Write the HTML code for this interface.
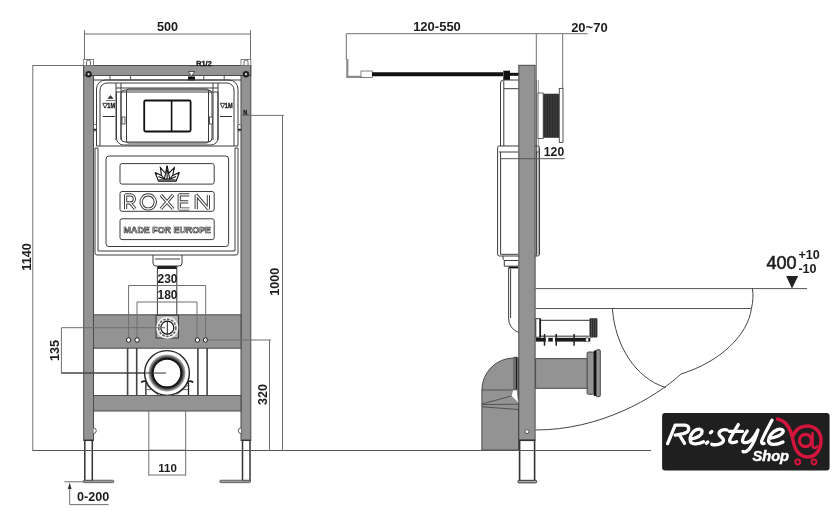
<!DOCTYPE html>
<html><head><meta charset="utf-8">
<style>
html,body{margin:0;padding:0;background:#fff;width:840px;height:525px;overflow:hidden}
svg{display:block;will-change:transform}
text{font-family:"Liberation Sans",sans-serif;fill:#1c1c1c}
.d{stroke:#6f6f6f;stroke-width:1;fill:none}
.o{stroke:#3c3c3c;stroke-width:1;fill:none}
.g{fill:#939393;stroke:#4a4a4a;stroke-width:1}
.b{font-weight:bold}
</style></head><body>
<svg width="840" height="525" viewBox="0 0 840 525">
<!-- ================= FRONT VIEW ================= -->
<!-- dim 500 -->
<text class="b" x="167.6" y="30.7" font-size="12.6" text-anchor="middle">500</text>
<path class="d" d="M84 34H251M84.5 30V60M250.5 30V60" stroke-width="1.4"/>
<!-- dim 1140 -->
<path class="d" d="M32.5 65.5H84M32.8 65.5V450.5"/>
<text class="b" transform="translate(30.5,257) rotate(-90)" font-size="12.6" text-anchor="middle">1140</text>

<!-- posts -->
<rect class="g" x="83.7" y="65.5" width="9.8" height="375"/>
<rect class="g" x="241" y="65.5" width="9.8" height="375"/>
<!-- top bar -->
<rect class="g" x="83.7" y="65.5" width="167" height="10"/>
<!-- top brackets -->
<rect x="83.7" y="59.5" width="9.8" height="6" fill="#fff" stroke="#666" stroke-width="0.8"/>
<rect x="241" y="59.5" width="9.8" height="6" fill="#fff" stroke="#666" stroke-width="0.8"/>
<path d="M86.5 65V62a2 2 0 0 1 4 0V65M244 65V62a2 2 0 0 1 4 0V65" stroke="#444" stroke-width="0.8" fill="none"/>
<!-- bolts -->
<circle cx="88.6" cy="74.2" r="3.2" fill="#222"/><circle cx="88.6" cy="74.2" r="1.1" fill="#ddd"/>
<circle cx="246" cy="74.2" r="3.2" fill="#222"/><circle cx="246" cy="74.2" r="1.1" fill="#ddd"/>
<!-- R1/2 -->
<text class="b" x="196.3" y="66.3" font-size="7.3" style="stroke:#1c1c1c;stroke-width:0.4">R1/2</text>
<path d="M190 66H194" stroke="#555" stroke-width="0.6"/>
<path d="M188.5 71.5H194.5L191.5 76.5Z" fill="#fff" stroke="#333" stroke-width="0.8"/>
<rect x="188" y="76.5" width="7" height="4" fill="#111"/>

<!-- strip below top bar -->
<path class="o" d="M93.5 80H241" stroke="#888"/>
<path d="M110 75.5V80M130.6 75.5V80M203.8 75.5V80M224.2 75.5V80" stroke="#555" stroke-width="1"/>

<!-- tank upper body -->
<path class="o" d="M96.5 146V89a9 9 0 0 1 9-9H229a9 9 0 0 1 9 9V146" stroke-width="0.9"/>
<path class="o" d="M100 146V90a7 7 0 0 1 7-7H227a7 7 0 0 1 7 7V146" stroke-width="0.7"/>
<path class="o" d="M116 83V140M121 83V140M213 83V140M218 83V140" stroke-width="0.7"/>
<path class="o" d="M116 88H218M116 92H218" stroke-width="0.7"/>
<!-- push plate housing -->
<path class="o" d="M116.5 92V138a7 7 0 0 0 7 7H211a7 7 0 0 0 7-7V92" stroke-width="0.9"/>
<rect class="o" x="121" y="90" width="91" height="52" rx="4" stroke-width="0.9"/>
<rect class="o" x="126.5" y="89" width="82" height="54" rx="2" stroke-width="1"/>
<!-- side tabs on housing -->
<rect x="122" y="117" width="3" height="7" fill="#fff" stroke="#333" stroke-width="0.8"/>
<rect x="209.5" y="117" width="3" height="7" fill="#fff" stroke="#333" stroke-width="0.8"/>
<!-- push buttons -->
<rect x="144.2" y="100.5" width="46.4" height="31" rx="1.5" fill="none" stroke="#111" stroke-width="1.8"/>
<path d="M171.6 100.5V131.5" stroke="#111" stroke-width="1.6"/>
<!-- 1M labels -->
<path d="M102.8 103.3H107.3L105 108.2Z M220.3 103.3H224.8L222.5 108.2Z" fill="none" stroke="#222" stroke-width="0.9"/>
<text class="b" x="107.3" y="108.4" font-size="7.4" textLength="7.8" lengthAdjust="spacingAndGlyphs" style="stroke:#1c1c1c;stroke-width:0.35">1M</text>
<text class="b" x="224.8" y="108.4" font-size="7.4" textLength="7.8" lengthAdjust="spacingAndGlyphs" style="stroke:#1c1c1c;stroke-width:0.35">1M</text>
<path d="M108 98.5L110.5 95.5L113 98.5ZM106 100.5H115" fill="#333" stroke="#333" stroke-width="0.7"/>
<path d="M103 116.5H115M220 116.5H232" stroke="#333" stroke-width="1"/>
<!-- side notches -->
<rect x="93.5" y="124.5" width="3" height="6.5" rx="1" fill="#fff" stroke="#333" stroke-width="0.7"/>
<rect x="93.5" y="128.8" width="3" height="1.6" fill="#222"/>
<rect x="238" y="124.5" width="3" height="6.5" rx="1" fill="#fff" stroke="#333" stroke-width="0.7"/>
<rect x="238" y="128.8" width="3" height="1.6" fill="#222"/>
<text x="243.2" y="113.8" font-size="5.5" class="b" style="stroke:#1c1c1c;stroke-width:0.3">N</text>
<path d="M243 114.6H248.5" stroke="#333" stroke-width="0.8"/>

<!-- tank lower body -->
<path class="o" d="M96.5 146H238" stroke-width="1"/>
<path class="o" d="M95 148V253a2 2 0 0 0 2 2H236a2 2 0 0 0 2-2V148" stroke-width="1"/>
<path class="o" d="M98 148V251H235V148" stroke-width="0.7"/>
<path class="o" d="M95 148H98M235 148H238" stroke-width="0.8"/>
<!-- label panel -->
<rect class="o" x="106" y="156" width="122.6" height="90.5" rx="3" stroke-width="1"/>
<rect class="o" x="120" y="163.6" width="94.2" height="20.5" rx="2" stroke-width="0.9"/>
<rect class="o" x="120" y="191.5" width="94.2" height="19.8" rx="2" stroke-width="0.9"/>
<rect class="o" x="120" y="218.8" width="94.2" height="20.8" rx="2" stroke-width="0.9"/>
<!-- crown -->
<g fill="none" stroke="#111" stroke-width="1.1" stroke-linejoin="miter">
<path d="M155.1 172.5L158.5 181.2H176.1L179.3 172.5"/>
<path d="M158.8 180H175.8"/>
<path d="M164.4 179L167.1 165.6L169.7 179Z M167.1 170V179"/>
<path d="M161.5 175.5L160.4 167.7L165.2 173"/>
<path d="M172.7 175.5L174.3 167.7L169 173"/>
<path d="M155.1 172.5L161.5 175.5L164.4 179M179.3 172.5L172.7 175.5L169.7 179"/>
<path d="M158.5 176.5L164 179M176 176.5L170.5 179"/>
</g>
<path d="M166 168.5L167.1 165.6L168.2 168.5Z M159.8 167L160.4 167.7L161.8 169.2L160.6 170Z M174.9 167L174.3 167.7L172.5 169.2L174.2 170Z M155.1 172.5L157.5 173.2L156.3 175Z M179.3 172.5L176.9 173.2L178.1 175Z" fill="#111"/>
<!-- ROXEN -->
<g fill="none" stroke-linecap="butt" stroke-linejoin="bevel">
<path id="rx" d="M125.6 209V194.9H130.4A4 4 0 0 1 130.4 202.9H125.6M130.2 202.9L135.2 209M148.2 194.9A7.05 7.05 0 1 0 148.21 194.9M160.8 194.9L173.2 209M173.2 194.9L160.8 209M189.2 194.9H179.2V209H189.2M179.2 201.9H188.2M196.2 209V194.9L208.4 209V194.9" stroke="#3a3a3a" stroke-width="3.2"/>
<path d="M125.6 209V194.9H130.4A4 4 0 0 1 130.4 202.9H125.6M130.2 202.9L135.2 209M148.2 194.9A7.05 7.05 0 1 0 148.21 194.9M160.8 194.9L173.2 209M173.2 194.9L160.8 209M189.2 194.9H179.2V209H189.2M179.2 201.9H188.2M196.2 209V194.9L208.4 209V194.9" stroke="#fff" stroke-width="1.3"/>
</g>
<!-- MADE FOR EUROPE -->
<text class="b" x="167.3" y="232.8" font-size="9.6" text-anchor="middle" textLength="87.5" lengthAdjust="spacingAndGlyphs" style="fill:#d0d0d0;stroke:#2a2a2a;stroke-width:0.6">MADE FOR EUROPE</text>

<!-- outlet below tank -->
<path class="o" d="M153 255V263a3 3 0 0 0 3 3H179a3 3 0 0 0 3-3V255" stroke-width="0.9"/>
<path class="o" d="M155 259H180" stroke-width="0.7"/>
<rect x="157.4" y="266" width="19.4" height="3" fill="#222"/>
<path class="o" d="M157.4 266V316M176.8 266V316" stroke-width="0.9"/>

<!-- dims 230 / 180 -->
<text class="b" x="167.5" y="282.7" font-size="12" text-anchor="middle">230</text>
<text class="b" x="167.5" y="299.1" font-size="12" text-anchor="middle">180</text>


<!-- middle crossbar -->
<rect class="g" x="93.5" y="314.8" width="147.5" height="33.4"/>
<path class="d" d="M128.6 285.5H205.7M128.6 285.5V338M205.7 285.5V338" stroke="#4a4a4a" stroke-width="1.1"/>
<path class="d" d="M137 302H197M137 302V338M197 302V338" stroke="#4a4a4a" stroke-width="1.1"/>
<!-- flush connector -->
<rect x="156.1" y="315.3" width="22.3" height="22.7" fill="#b5b5b5" stroke="#333" stroke-width="1"/>
<circle cx="167.3" cy="327.7" r="11" fill="#f2f2f2"/>
<circle cx="167.3" cy="327.7" r="8.6" fill="none" stroke="#666" stroke-width="1.6" stroke-dasharray="2.6 1.4"/>
<circle cx="167.3" cy="327.7" r="6.5" fill="#fff" stroke="#111" stroke-width="1.2"/>
<path d="M167.3 321V334.5" stroke="#222" stroke-width="1"/>
<path d="M61.4 327.7H165" stroke="#6f6f6f" stroke-width="1"/>
<!-- bolt holes -->
<g fill="#fff" stroke="#222" stroke-width="1">
<circle cx="128.6" cy="340" r="2.2"/><circle cx="137.1" cy="340" r="2.2"/>
<circle cx="197.4" cy="340" r="2.2"/><circle cx="205.5" cy="340" r="2.2"/>
</g>
<!-- 135 dim -->
<path class="d" d="M61.4 373H166M61.4 327.7V373"/>
<text class="b" transform="translate(58.5,350.5) rotate(-90)" font-size="12.6" text-anchor="middle">135</text>
<!-- 320 dim -->
<path class="d" d="M205.5 340H271M269.5 340V450.5"/>
<text class="b" transform="translate(266.6,394.5) rotate(-90)" font-size="12.6" text-anchor="middle">320</text>
<!-- 1000 dim -->
<path class="d" d="M241 115.4H284M282.5 115.4V450.5"/>
<text class="b" transform="translate(279.4,281.7) rotate(-90)" font-size="12.6" text-anchor="middle">1000</text>

<!-- rods below middle crossbar -->
<path d="M127.6 348V396M136.7 348V396M197.9 348V396M207.1 348V396" stroke="#444" stroke-width="1.6"/>
<!-- outlet bracket -->
<rect x="145.9" y="383" width="42.6" height="13" fill="#fff" stroke="#222" stroke-width="1.3"/>
<path d="M146.5 389.6H156M178 389.6H188M146.5 385L158 395M188 385L176.5 395" stroke="#444" stroke-width="0.8"/>
<path d="M141.8 382C143 381 144.5 381 146 381.5M192.6 382C191.4 381 189.9 381 188.4 381.5" fill="none" stroke="#222" stroke-width="1.8" stroke-linecap="round"/>
<!-- outlet ring -->
<circle cx="167" cy="373" r="22.4" fill="#fff" stroke="#222" stroke-width="1.4"/>
<defs><radialGradient id="rg" cx="0.5" cy="0.5" r="0.5"><stop offset="0.74" stop-color="#111"/><stop offset="0.82" stop-color="#3a3a3a"/><stop offset="0.95" stop-color="#aaa"/><stop offset="1" stop-color="#fff"/></radialGradient></defs>
<circle cx="167" cy="373" r="19" fill="url(#rg)"/>
<circle cx="167" cy="373" r="14" fill="#fff" stroke="#111" stroke-width="1.4"/>
<path d="M61.4 373H166" stroke="#333" stroke-width="1"/>

<!-- bottom crossbar -->
<rect class="g" x="93.5" y="395.5" width="147.5" height="15.5"/>
<!-- 110 dim -->
<path class="d" d="M148.8 411V475.5M185.7 411V475.5M148.8 475H185.7"/>
<path d="M148.8 450.3H185.7" stroke="#444" stroke-width="1.3"/>
<text class="b" x="167.5" y="472.4" font-size="11.5" text-anchor="middle">110</text>
<!-- legs -->
<rect x="84.8" y="440.3" width="7.5" height="40.5" fill="#fff" stroke="#333" stroke-width="1.5"/>
<rect x="242.5" y="440.3" width="7.5" height="40.5" fill="#fff" stroke="#333" stroke-width="1.5"/>
<rect x="83.1" y="480.2" width="30.8" height="2.5" rx="1.2" fill="#999" stroke="#444" stroke-width="0.7"/>
<rect x="219.7" y="480.2" width="30.8" height="2.5" rx="1.2" fill="#999" stroke="#444" stroke-width="0.7"/>
<!-- knobs -->
<path d="M93.5 428a2.5 2.5 0 0 1 0 5.5" fill="#fff" stroke="#333" stroke-width="0.8"/>
<path d="M241 428a2.5 2.5 0 0 0 0 5.5" fill="#fff" stroke="#333" stroke-width="0.8"/>
<!-- 0-200 -->
<path class="d" d="M64.4 481.8H84M69.7 487V504.6H108.6"/>
<path d="M67.8 489L69.7 482.5L71.6 489Z" fill="#333"/>
<text class="b" x="77" y="501.1" font-size="12.6">0-200</text>



<!-- ================= SIDE VIEW ================= -->
<text class="b" x="437" y="31.3" font-size="13" text-anchor="middle">120-550</text>
<text class="b" x="589.4" y="31.5" font-size="13" text-anchor="middle">20~70</text>
<path class="d" d="M346.3 33.7H587.5M346.3 33.7V60M536.3 33.7V80M562.7 33.7V88" stroke-width="1.2"/>
<!-- L bracket -->
<path d="M347.3 59V76.8H371" fill="none" stroke="#8a8a8a" stroke-width="2.2"/>
<rect x="361" y="71" width="11.3" height="6.5" fill="#fff" stroke="#666" stroke-width="0.8"/>
<path d="M372 74.3H503" stroke="#111" stroke-width="4"/>
<rect x="503.3" y="70.7" width="6.7" height="9.3" fill="#111"/>
<path d="M510 74.3H519" stroke="#111" stroke-width="3"/>
<!-- side tank top -->
<path class="o" d="M500.5 146.2V83a3 3 0 0 1 3-3H518.8" stroke-width="0.9"/>
<path class="o" d="M503.8 88.7H518.8M503.8 80.5V146" stroke-width="0.8"/>
<!-- side tank lower -->
<path class="o" d="M499.5 146H538a1.5 1.5 0 0 1 1.5 1.5V254a2 2 0 0 1-2 2H499.6a2 2 0 0 1-2-2V147.5a1.5 1.5 0 0 1 1.5-1.5Z" stroke-width="1"/>
<path class="o" d="M500.6 152V254.3H518M536.7 152V254.3M499 152H518M536 152H540" stroke-width="0.7"/>
<text class="b" x="554" y="156.3" font-size="12.2" text-anchor="middle">120</text>
<!-- outlet -->
<path class="o" d="M502.9 256Q502.9 260.5 504.3 260.5V266.2H518M504.3 260.5H518" stroke-width="0.8"/>
<rect x="508.6" y="266.6" width="9.6" height="1.8" fill="#111"/>
<!-- flush pipe with bend -->
<path class="o" d="M508.6 268V318a15 15 0 0 0 10 14.5" stroke-width="1"/>
<path class="o" d="M510.6 268.5V318" stroke-width="0.6"/>

<!-- wall strip -->
<path d="M536.3 80V256" stroke="#444" stroke-width="1"/>
<path d="M538.3 80V256" stroke="#777" stroke-width="0.8"/>
<!-- flush button side -->
<rect x="538" y="93" width="5.2" height="45.6" fill="#fff" stroke="#444" stroke-width="0.8"/>
<rect x="543.2" y="93.7" width="16" height="44.1" fill="#3a3a3a"/>
<path d="M545 94V137M547.5 94V137M550 94V137M552.5 94V137M555 94V137M557.5 94V137" stroke="#222" stroke-width="0.6"/>
<rect x="559.3" y="88.4" width="3.7" height="54" fill="#fff" stroke="#444" stroke-width="0.9"/>

<!-- side post -->
<rect class="g" x="518.8" y="65.3" width="16.3" height="375"/>
<circle cx="527" cy="431.6" r="2" fill="#fff" stroke="#333" stroke-width="0.8"/>
<path d="M500.7 158.7H564.7" stroke="#555" stroke-width="1"/>
<!-- side leg -->
<rect x="519.6" y="440.3" width="15" height="40.5" fill="#fff" stroke="#333" stroke-width="1.6"/>
<rect x="517.8" y="480.3" width="19" height="2.6" rx="1.2" fill="#aaa" stroke="#333" stroke-width="0.9"/>

<!-- bowl -->
<path d="M535.5 288.6H807" stroke="#555" stroke-width="1"/>
<path d="M535.5 308.5H751" stroke="#555" stroke-width="1"/>
<path d="M752.4 288.6C753.5 295 753 302 751.4 308.6C748 335 720 362 681 374C655 398 600 430 535.7 430" fill="none" stroke="#444" stroke-width="1"/>
<path d="M612.4 308.6C615 345 635 378 665.7 387.6" fill="none" stroke="#444" stroke-width="1"/>
<path d="M792 288.6L786.1 276.1H798.2Z" fill="#222"/>
<text x="781.6" y="269.3" font-size="18" text-anchor="middle" style="stroke:#1c1c1c;stroke-width:0.6">400</text>
<text class="b" x="798.4" y="259.4" font-size="12.6">+10</text>
<text class="b" x="798.4" y="272.5" font-size="12.6">-10</text>

<!-- bolts bracket -->
<path d="M540.7 320.3H589.5" stroke="#333" stroke-width="1"/>
<path d="M540.5 336.2H589" stroke="#777" stroke-width="1.4"/>
<rect x="535.8" y="318.7" width="4.8" height="18.5" fill="#fff" stroke="#222" stroke-width="0.9"/>
<path d="M540 319V337" stroke="#111" stroke-width="1.4"/>
<rect x="535.8" y="337.8" width="54.5" height="3.8" fill="#1a1a1a"/>
<rect x="545.8" y="337.5" width="2.5" height="4.4" fill="#fff"/>
<rect x="552.8" y="337.5" width="2.2" height="4.4" fill="#fff"/>
<ellipse cx="587.2" cy="339.7" rx="1.5" ry="2.2" fill="#fff" stroke="#333" stroke-width="0.6"/>
<path d="M544.5 334V345.8M556.2 334V345.8M574.1 334V345.8" stroke="#222" stroke-width="1.5"/>
<rect x="589.5" y="318.2" width="7.9" height="19.2" rx="1" fill="#2a2a2a"/>
<path d="M591.5 319V337M593.5 319V337M595.5 319V337" stroke="#666" stroke-width="0.6"/>

<!-- drain pipe -->
<rect class="g" x="535.6" y="358.6" width="52" height="29.7"/>
<rect class="g" x="587.1" y="352" width="7" height="42.3" rx="1.2"/>
<rect class="g" x="596" y="349.7" width="4.3" height="47" rx="1.2"/>
<rect x="593.8" y="350.5" width="2.4" height="45.5" fill="#111"/>
<!-- elbow -->
<path class="g" d="M481.9 450.1V390a32 32 0 0 1 32-32H518.5V450.1Z"/>
<rect class="g" x="514" y="357.3" width="3" height="32"/>
<path d="M516.3 357.5V389" stroke="#111" stroke-width="1.2"/>
<path d="M482 390H514M482 404L511.3 396M482 404.6L518.4 404.2M482 406.8L518.4 409.5" stroke="#444" stroke-width="0.8" fill="none"/>
<path d="M512.7 390H517L518.6 403.3L511.3 396Z" fill="#fff" stroke="#555" stroke-width="0.5"/>

<!-- floor line -->
<path d="M32.5 450.5H651" stroke="#555" stroke-width="1"/>
<!-- ================= LOGO ================= -->
<rect x="662.1" y="413.1" width="167.5" height="57.3" rx="3" fill="#1f1f1f"/>
<g fill="none" stroke="#fff" stroke-width="3.3" stroke-linecap="round" stroke-linejoin="round">
<path d="M667.6 443.6L675 425.6M675 425.2H685C690 425.2 690.5 432.5 683.5 433.5C680 434.2 677 435 675.2 435.2M679.5 435L684.5 443.4"/>
<path d="M691.8 439C696 438 701 436 702 432.5C702.5 429.5 699.5 428.5 696.5 429.6C691.5 431.5 689.5 437 690.3 441C691 444.5 697 445 703.5 441.8"/>
<path d="M711.8 431.5L710.4 432.7M707.8 442L706.4 443.2" stroke-width="3.4"/>
<path d="M727 430C723.5 428.8 719 430.5 719 433.8C719 436.5 723.5 437.3 723.5 440.3C723.5 444 716 445.5 711.8 444.3"/>
<path d="M738.3 424.6C735 430 731 436 729.8 439.5C729 442.5 732 443.5 736.6 441.7M729.3 431.3H742.5"/>
<path d="M747.3 431C745 434 742.5 438.5 742.5 440.5C742.5 443.5 747 443 749.5 441.5C753 439 756 434 758 430C756 437 753 444 750 448C748 451 745 452.5 743 451.5"/>
<path d="M772 420.3C768.5 427 764 435 762 440C761 442.5 762 444 764 443.5"/>
<path d="M769.5 438.5C774 437.7 781 436 783 432.3C784 429.5 780.5 428.5 777.5 429.6C772 431.5 768.3 437 768.5 441C769 445.3 776 445.5 783 442"/>
</g>
<text class="b" x="752.5" y="461.2" font-size="15" font-style="italic" style="fill:#fff;stroke:#fff;stroke-width:0.45" textLength="36.5" lengthAdjust="spacingAndGlyphs">Shop</text>
<g fill="none" stroke="#d3143d" stroke-width="3.5" stroke-linecap="round">
<path d="M777.6 419C787 421 791 430 793 440C795 452 801 457 808 457C816 457 821 449 821 440C821 432 815 426 807.5 426C800 426 795.5 430 793.5 435"/>
<circle cx="805.5" cy="440.5" r="6.1" stroke-width="3.1"/>
<path d="M812.5 433V445C812.5 448 815 449 817 446.5" stroke-width="2.6"/>
</g>
<circle cx="797.7" cy="462" r="2.4" fill="none" stroke="#d3143d" stroke-width="2"/>
<circle cx="814" cy="462" r="2.4" fill="none" stroke="#d3143d" stroke-width="2"/>
</svg>
</body></html>
